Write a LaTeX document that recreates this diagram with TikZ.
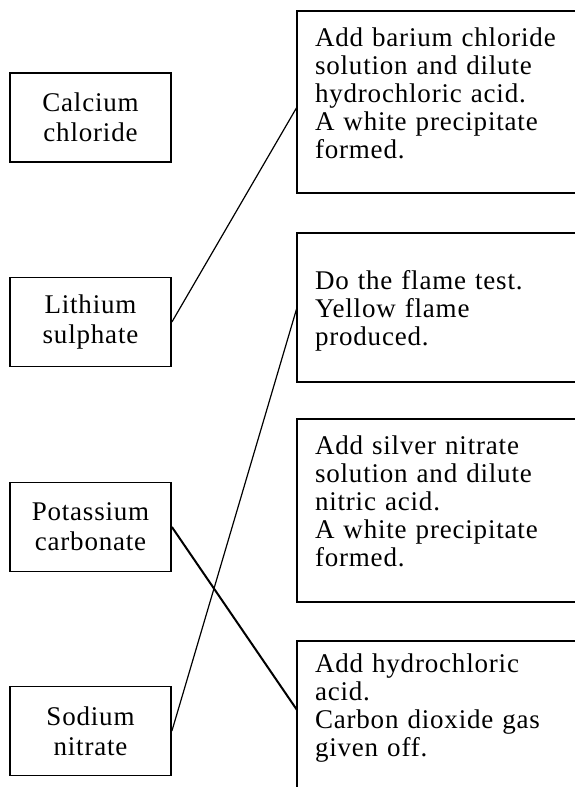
\documentclass[tikz,border=0pt]{standalone}
\usepackage{fontspec}
\setmainfont{Liberation Serif}[LetterSpace=3]
\usetikzlibrary{positioning}
\tikzset{
  salt/.style={draw,line width=1.8pt,minimum width=161pt,minimum height=89pt,
    inner sep=0pt,align=center,font=\fontsize{27}{30}\selectfont},
  test/.style={draw,line width=1.2pt,anchor=north west,outer sep=0pt,
    inner xsep=18pt,inner ysep=0pt,text width=270pt,align=left,
    font=\fontsize{27}{28}\selectfont},
  link/.style={line width=1.2pt},
  boldlink/.style={line width=2pt},
}

\begin{document}
\begin{tikzpicture}[x=1pt,y=1pt]
    \useasboundingbox (0,0) rectangle (574,787);
    % ---- left: the four salts ----
    \node[salt] (calcium) at (90.5,669.5) {Calcium\\chloride};
    \node[salt] (lithium) at (90.5,465) {Lithium\\sulphate};
    \node[salt] (potassium) at (90.5,260) {Potassium\\carbonate};
    \node[salt] (sodium) at (90.5,56) {Sodium\\nitrate};
    % ---- right: the tests (open on the right edge) ----
    \node[test,text height=36pt,text depth=146pt] (barium) at (297,776)
      {Add barium chloride\\solution and dilute\\hydrochloric acid.\\A white precipitate\\formed.};
    \node[test,text height=57pt,text depth=92pt] (flame) at (297,554)
      {Do the flame test.\\Yellow flame\\produced.};
    \draw[line width=2.4pt] (flame.south west) -- (flame.south east);
    \node[test,text height=36pt,text depth=147pt] (silver) at (297,368)
      {Add silver nitrate\\solution and dilute\\nitric acid.\\A white precipitate\\formed.};
    \node[test,text height=32pt,text depth=122pt] (carbon) at (297,146)
      {Add hydrochloric\\acid.\\Carbon dioxide gas\\given off.};
    % ---- matching lines ----
    \draw[link] (lithium.east) -- ([yshift=-5pt]barium.west);
    \draw[boldlink] (potassium.east) -- ([yshift=8pt]carbon.west);
    \draw[link] (sodium.east) -- (flame.west);
  \end{tikzpicture}
\end{document}
